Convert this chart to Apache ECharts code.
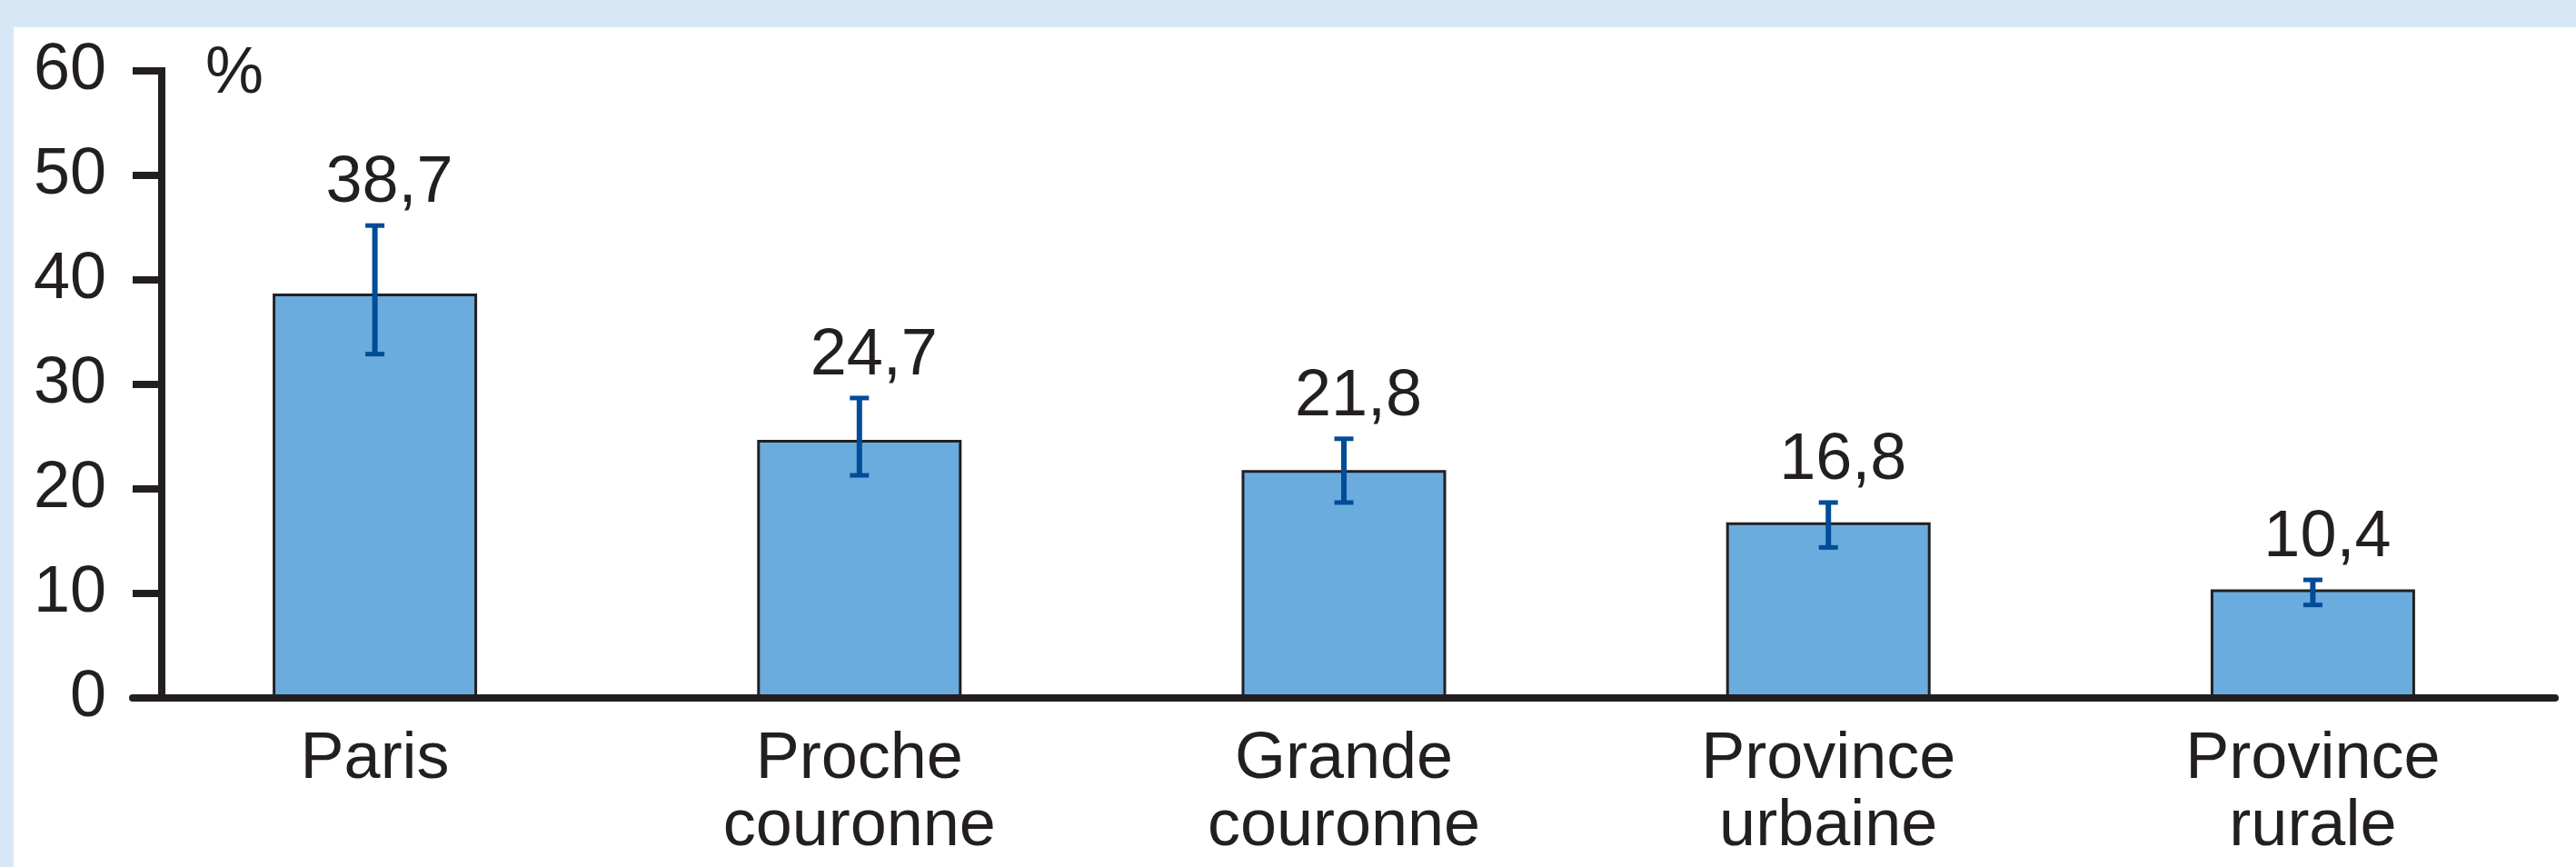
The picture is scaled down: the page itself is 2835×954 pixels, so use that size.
<!DOCTYPE html>
<html>
<head>
<meta charset="utf-8">
<script src="https://cdn.jsdelivr.net/npm/echarts@6/dist/echarts.min.js"></script>
<style>
html,body{margin:0;padding:0;background:#D8E7F5;}
#c{width:2835px;height:954px;}
</style>
</head>
<body>
<div id="c"></div>
<script>
// ---- data ----
const categories = ['Paris', 'Proche\ncouronne', 'Grande\ncouronne', 'Province\nurbaine', 'Province\nrurale'];
const values = [38.7, 24.7, 21.8, 16.8, 10.4];
const errLow = [32.9, 21.3, 18.7, 14.4, 8.9];
const errHigh = [45.2, 28.7, 24.8, 18.7, 11.3];
const yMin = 0, yMax = 60, yInterval = 10;
const unitLabel = '%';

// ---- styles ----
const FONT = "'Liberation Sans', Arial, Helvetica, sans-serif";
const INK = '#231F20';
const BAR = '#6BACDE';
const ERR = '#004C97';
const fmt = v => String(v).replace('.', ',');

const chart = echarts.init(document.getElementById('c'), null, {renderer: 'canvas'});

const option = {
  backgroundColor: '#D8E7F5',
  animation: false,
  graphic: [
    {type: 'rect', left: 15, top: 30, z: -100, shape: {width: 2820, height: 924}, style: {fill: '#FFFFFF'}},
    {type: 'text', left: 226, top: 46, z: 100, style: {text: unitLabel, font: '72px ' + FONT, fill: INK}}
  ],
  grid: {left: 146, right: 23, top: 78, bottom: 186, containLabel: false},
  xAxis: {
    type: 'category',
    data: categories,
    z: 10,
    axisLine: {show: true, lineStyle: {color: INK, width: 8}},
    axisTick: {show: false},
    splitLine: {show: false},
    axisLabel: {
      interval: 0, margin: 31, color: INK, fontSize: 72, lineHeight: 74,
      fontFamily: FONT
    }
  },
  yAxis: {
    type: 'value',
    min: yMin, max: yMax, interval: yInterval,
    offset: -32,
    z: 10,
    axisLine: {show: true, lineStyle: {color: INK, width: 8, cap: 'square'}},
    axisTick: {show: true, inside: false, length: 32, lineStyle: {color: INK, width: 8}},
    splitLine: {show: false},
    axisLabel: {margin: 61, color: INK, fontSize: 72, fontFamily: FONT}
  },
  series: [
    {
      type: 'bar',
      data: values,
      barWidth: 225,
      itemStyle: {color: BAR, borderColor: INK, borderWidth: 3},
      z: 2
    },
    {
      type: 'custom',
      z: 5,
      data: errLow.map((l, i) => [i, l, errHigh[i]]),
      encode: {x: 0, y: [1, 2]},
      renderItem: function (params, api) {
        const i = api.value(0);
        const lo = api.coord([i, api.value(1)]);
        const hi = api.coord([i, api.value(2)]);
        const x = hi[0];
        const cw = 10.5;
        return {
          type: 'group',
          children: [
            {type: 'line', shape: {x1: x, y1: hi[1], x2: x, y2: lo[1]}, style: {stroke: ERR, lineWidth: 6}},
            {type: 'line', shape: {x1: x - cw, y1: hi[1], x2: x + cw, y2: hi[1]}, style: {stroke: ERR, lineWidth: 5}},
            {type: 'line', shape: {x1: x - cw, y1: lo[1], x2: x + cw, y2: lo[1]}, style: {stroke: ERR, lineWidth: 5}},
            {type: 'text', x: x + 16, y: hi[1] - 10,
              style: {text: fmt(values[i]), font: '72px ' + FONT, fill: INK, align: 'center', verticalAlign: 'bottom'}}
          ]
        };
      }
    }
  ]
};
chart.setOption(option);
</script>
</body>
</html>
